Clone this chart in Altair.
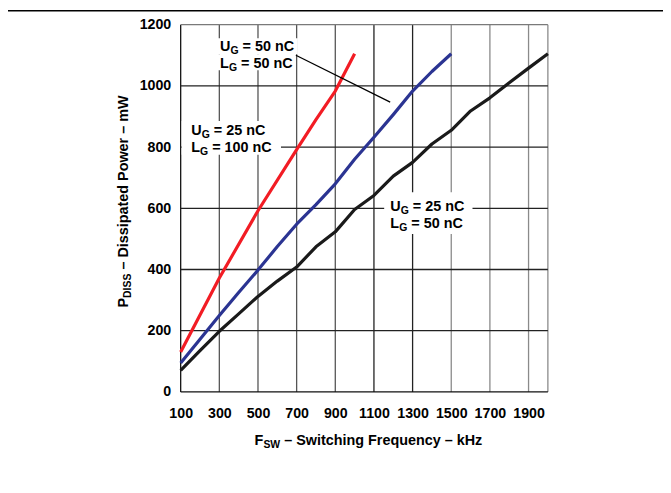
import altair as alt
import pandas as pd

# ---------------- data ----------------
freq_red = [100, 300, 500, 700, 800, 900, 1000]
p_red = [130, 372, 592, 792, 890, 983, 1105]

freq_blue = [100, 200, 300, 400, 500, 600, 700, 800, 900, 1000, 1100, 1200, 1300, 1400, 1500]
p_blue = [94, 172, 250, 325, 398, 475, 548, 612, 680, 760, 832, 906, 983, 1047, 1105]

freq_black = [100, 200, 300, 400, 500, 600, 700, 800, 900, 1000,
              1100, 1200, 1300, 1400, 1500, 1600, 1700, 1800, 1900, 2000]
p_black = [70, 135, 198, 255, 312, 362, 408, 474, 523, 596,
           642, 705, 750, 810, 855, 918, 961, 1010, 1058, 1105]

series_names = ["red", "blue", "black"]
series_colors = ["#f21c24", "#2b3492", "#1a1a1a"]

x_ticks = [100, 300, 500, 700, 900, 1100, 1300, 1500, 1700, 1900]
y_ticks = [0, 200, 400, 600, 800, 1000, 1200]

# annotation lines: (x, y baseline in data units, main letter, subscript, rest after a space)
ann_lines = [
    (304, 1115, "U", "G", "= 50 nC"),
    (304, 1058, "L", "G", "= 50 nC"),
    (155, 839, "U", "G", "= 25 nC"),
    (155, 783, "L", "G", "= 100 nC"),
    (1185, 590, "U", "G", "= 25 nC"),
    (1185, 536, "L", "G", "= 50 nC"),
]
# white knock-out boxes behind the annotation text (data units)
ann_boxes = [
    (280, 706, 1156, 1103),
    (280, 690, 1103, 1051),
    (105, 619, 885, 775),
    (1153, 1610, 652, 516),
]
leader = (696, 1100, 1184, 947)

# ---------------- styling ----------------
FONT = "Liberation Sans"
MAIN = 14.5
SUB = 10.5
SUB_DY = 3
PLOT_W, PLOT_H = 370, 370
XDOM, YDOM = [100, 2000], [0, 1200]
KHZ_PER_PX = (XDOM[1] - XDOM[0]) / PLOT_W

AW = {" ": 278, "=": 584, "0": 556, "1": 556, "2": 556, "5": 556, "n": 611, "C": 722,
      "U": 722, "L": 611, "G": 778, "P": 667, "D": 722, "I": 278, "S": 667, "F": 611,
      "W": 944}


def tw(s, size):
    return sum(AW.get(c, 556) for c in s) * size / 1000.0


SPACE = tw(" ", MAIN)

xscale = alt.Scale(domain=XDOM, nice=False, zero=False)
yscale = alt.Scale(domain=YDOM, nice=False, zero=False)
xaxis = alt.Axis(values=x_ticks, format="d", grid=False, ticks=False, tickSize=0, domain=False,
                 title=None, labelFont=FONT, labelFontWeight="bold", labelFontSize=14.3,
                 labelColor="#000", labelPadding=15, labelFlush=False, labelOverlap=False)
yaxis = alt.Axis(values=y_ticks, format="d", grid=False, ticks=False, tickSize=0, domain=False,
                 title=None, labelFont=FONT, labelFontWeight="bold", labelFontSize=14.3,
                 labelColor="#000", labelPadding=10, labelFlush=False, labelOverlap=False)


def X(f):
    return alt.X(f, type="quantitative", scale=xscale, axis=xaxis)


def Y(f):
    return alt.Y(f, type="quantitative", scale=yscale, axis=yaxis)


# ---------------- tables ----------------
curves = pd.concat([
    pd.DataFrame({"f": freq_red, "p": p_red, "s": "red", "o": range(len(freq_red))}),
    pd.DataFrame({"f": freq_blue, "p": p_blue, "s": "blue", "o": range(len(freq_blue))}),
    pd.DataFrame({"f": freq_black, "p": p_black, "s": "black", "o": range(len(freq_black))}),
])

vgrid = pd.DataFrame({
    "f": [100] + x_ticks[1:] + [2000],
    "c": ["#111"] + ["#555"] * 4 + ["#222"] * 2 + ["#8a8a8a"] * 3 + ["#8a8a8a"],
})
hgrid = pd.DataFrame({
    "p": y_ticks,
    "c": ["#111", "#222", "#222", "#222", "#222", "#222", "#7a7a7a"],
})

boxes = pd.DataFrame(ann_boxes, columns=["x1", "x2", "y1", "y2"])
lead = pd.DataFrame([leader], columns=["x1", "y1", "x2", "y2"])

main_rows, sub_rows = [], []
for x0, y0, letter, sub, rest in ann_lines:
    w1 = tw(letter, MAIN)
    w2 = tw(sub, SUB)
    main_rows.append({"x": x0, "y": y0, "t": letter})
    main_rows.append({"x": x0 + (w1 + w2 + SPACE) * KHZ_PER_PX, "y": y0, "t": rest})
    sub_rows.append({"x": x0 + w1 * KHZ_PER_PX, "y": y0, "t": sub})
ann_main = pd.DataFrame(main_rows)
ann_sub = pd.DataFrame(sub_rows)

# ---------------- layers ----------------
vg = alt.Chart(vgrid).mark_rule(strokeWidth=1.3).encode(x=X("f"), color=alt.Color("c:N", scale=None))
hg = alt.Chart(hgrid).mark_rule(strokeWidth=1.3).encode(y=Y("p"), color=alt.Color("c:N", scale=None))

box = alt.Chart(boxes).mark_rect(color="white").encode(x=X("x1"), x2="x2", y=Y("y1"), y2="y2")

lines = alt.Chart(curves).mark_line(strokeWidth=3.2, strokeJoin="round").encode(
    x=X("f"), y=Y("p"),
    color=alt.Color("s:N", scale=alt.Scale(domain=series_names, range=series_colors), legend=None),
    order="o:Q",
)

lead_rule = alt.Chart(lead).mark_rule(color="#000", strokeWidth=1.3).encode(
    x=X("x1"), y=Y("y1"), x2="x2", y2="y2")

t_main = alt.Chart(ann_main).mark_text(font=FONT, fontWeight="bold", fontSize=MAIN,
                                       align="left", baseline="alphabetic", color="#000").encode(
    x=X("x"), y=Y("y"), text="t:N")
t_sub = alt.Chart(ann_sub).mark_text(font=FONT, fontWeight="bold", fontSize=SUB, dy=SUB_DY,
                                     align="left", baseline="alphabetic", color="#000").encode(
    x=X("x"), y=Y("y"), text="t:N")

one = pd.DataFrame({"k": [0]})


def title_piece(txt, px, py, size, dx, dy, angle=0):
    return alt.Chart(one).mark_text(font=FONT, fontWeight="bold", fontSize=size, align="left",
                                    baseline="alphabetic", color="#000", dx=dx, dy=dy,
                                    angle=angle).encode(
        x=alt.value(px), y=alt.value(py), text=alt.value(txt))


# x title: F_SW – Switching Frequency – kHz
xt_x, xt_y = 74.5, 423.7
xw1 = tw("F", MAIN)
xw2 = tw("SW", SUB)
xt = [
    title_piece("F", xt_x, xt_y, MAIN, 0, 0),
    title_piece("SW", xt_x, xt_y, SUB, xw1, SUB_DY),
    title_piece("\u2013 Switching Frequency \u2013 kHz", xt_x, xt_y, MAIN, xw1 + xw2 + SPACE, 0),
]

# y title: P_DISS – Dissipated Power – mW (rotated)
yt_x, yt_y = -53, 285
yw1 = tw("P", MAIN)
yw2 = tw("DISS", SUB)
yt = [
    title_piece("P", yt_x, yt_y, MAIN, 0, 0, 270),
    title_piece("DISS", yt_x, yt_y, SUB, yw1, SUB_DY, 270),
    title_piece("\u2013 Dissipated Power \u2013 mW", yt_x, yt_y, MAIN, yw1 + yw2 + SPACE, 0, 270),
]

# page header rule
top_rule = alt.Chart(one).mark_rule(color="#000", strokeWidth=1.5).encode(
    x=alt.value(-174), x2=alt.value(490), y=alt.value(-14))

chart = alt.layer(vg, hg, box, lines, lead_rule, t_main, t_sub, *xt, *yt, top_rule).properties(
    width=PLOT_W, height=PLOT_H,
    autosize=alt.AutoSizeParams(type="none"),
    padding={"left": 174, "top": 15, "right": 116, "bottom": 90},
    background="white",
).configure_view(stroke=None)

chart.save("out.html", embed_options={"renderer": "svg", "actions": False})
